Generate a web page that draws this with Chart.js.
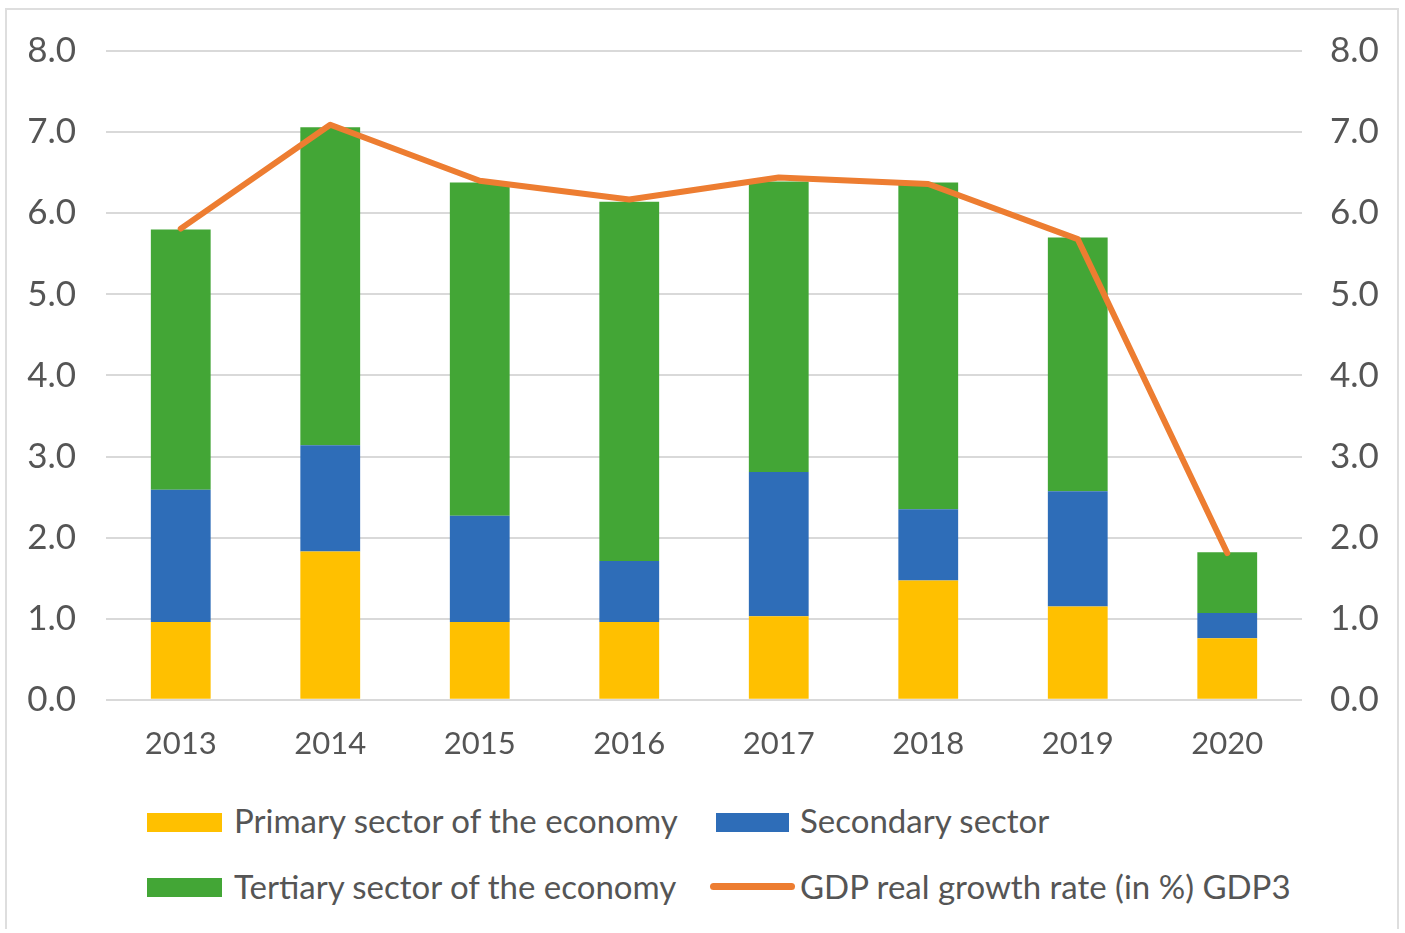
<!DOCTYPE html>
<html>
<head>
<meta charset="utf-8">
<script src="https://cdn.jsdelivr.net/npm/chart.js@4"></script>
<style>
  html, body { margin: 0; padding: 0; background: #ffffff; }
  body { width: 1405px; height: 933px; position: relative; overflow: hidden; font-family: Lato, "Open Sans", sans-serif; }
  #frame { position: absolute; left: 5px; top: 8px; width: 1394px; height: 921px; border: 2px solid #dedede; border-bottom: none; box-sizing: border-box; }
  #wrap { position: absolute; left: 0; top: 0; width: 1405px; height: 789px; }
  .leg { position: absolute; color: #555555; font-size: 33px; line-height: 34px; white-space: nowrap; }
  .box { position: absolute; }
</style>
</head>
<body>
<div id="frame"></div>
<div id="wrap"><canvas id="c"></canvas></div>

<div class="box" style="left:147px; top:813px; width:75px; height:19px; background:#FFC000;"></div>
<div class="leg" style="left:234px; top:803px;">Primary sector of the economy</div>
<div class="box" style="left:716px; top:813px; width:73px; height:19px; background:#2E6DB8;"></div>
<div class="leg" style="left:800px; top:803px;">Secondary sector</div>
<div class="box" style="left:147px; top:878px; width:75px; height:19px; background:#43A636;"></div>
<div class="leg" style="left:234px; top:869px;">Tertiary sector of the economy</div>
<div class="box" style="left:710px; top:883px; width:85px; height:7px; border-radius:4px; background:#ED7D31;"></div>
<div class="leg" style="left:800px; top:869px;">GDP real growth rate (in %) GDP3</div>

<script>
const years = ["2013", "2014", "2015", "2016", "2017", "2018", "2019", "2020"];
const primary   = [0.96, 1.83, 0.96, 0.96, 1.03, 1.47, 1.15, 0.76];
const secondary = [1.63, 1.31, 1.31, 0.75, 1.78, 0.88, 1.42, 0.31];
const tertiary  = [3.21, 3.92, 4.11, 4.43, 3.58, 4.03, 3.13, 0.75];
const gdpGrowth = [5.81, 7.09, 6.40, 6.17, 6.44, 6.36, 5.68, 1.81];
const yTicks = [0, 1, 2, 3, 4, 5, 6, 7, 8];

const xFont = { family: "Lato", size: 31 };
const yFont = { family: "Lato", size: 35 };
const textColor = "#555555";

new Chart(document.getElementById("c"), {
  type: "bar",
  data: {
    labels: years,
    datasets: [
      { type: "line", label: "GDP real growth rate (in %) GDP3", data: gdpGrowth, borderColor: "#ED7D31",
        borderWidth: 6, pointRadius: 0, tension: 0, yAxisID: "y", order: 0, borderJoinStyle: "round", borderCapStyle: "round" },
      { label: "Primary sector of the economy", data: primary, backgroundColor: "#FFC000", stack: "s", order: 1 },
      { label: "Secondary sector", data: secondary, backgroundColor: "#2E6DB8", stack: "s", order: 1 },
      { label: "Tertiary sector of the economy", data: tertiary, backgroundColor: "#43A636", stack: "s", order: 1 }
    ]
  },
  options: {
    responsive: true,
    maintainAspectRatio: false,
    animation: false,
    layout: { padding: { left: 0, right: 0, top: 26, bottom: 0 } },
    datasets: { bar: { barPercentage: 0.8, categoryPercentage: 0.5 } },
    plugins: { legend: { display: false }, tooltip: { enabled: false } },
    scales: {
      x: {
        stacked: true,
        grid: { display: false, drawTicks: false },
        border: { display: false },
        ticks: { font: xFont, color: textColor, padding: 26, maxRotation: 0 }
      },
      y: {
        stacked: true,
        position: "left",
        min: 0, max: 8,
        afterBuildTicks: (s) => { s.ticks = yTicks.map(v => ({ value: v })); },
        afterFit: (s) => { s.width = 106; },
        grid: { color: "#d9d9d9", lineWidth: 2, drawTicks: false },
        border: { display: false },
        ticks: { font: yFont, color: textColor, padding: 30, callback: (v) => Number(v).toFixed(1) }
      },
      y2: {
        position: "right",
        min: 0, max: 8,
        afterBuildTicks: (s) => { s.ticks = yTicks.map(v => ({ value: v })); },
        afterFit: (s) => { s.width = 103; },
        grid: { display: false, drawTicks: false },
        border: { display: false },
        ticks: { font: yFont, color: textColor, padding: 28, callback: (v) => Number(v).toFixed(1) }
      }
    }
  }
});
</script>
</body>
</html>
